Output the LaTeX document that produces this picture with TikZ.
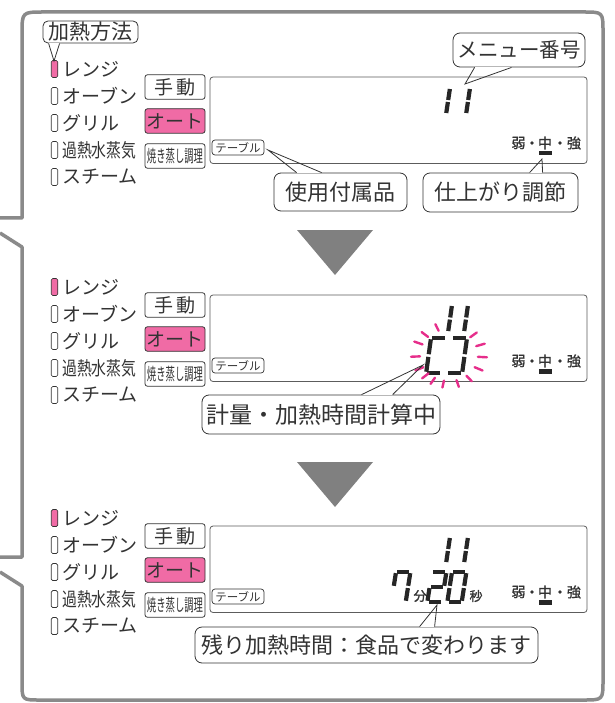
\documentclass[tikz,border=0pt]{standalone}
\usepackage{fontspec}
\newfontfamily\jp{Noto Sans CJK JP}
\newfontfamily\jpfb[FakeBold=1.2]{Noto Sans CJK JP}
\usetikzlibrary{calc}
\definecolor{txt}{HTML}{333333}
\definecolor{pinkb}{HTML}{F06BA5}
\definecolor{raycol}{HTML}{E62E8B}
\definecolor{framec}{HTML}{8A8A8A}
\definecolor{tricol}{HTML}{808080}
\newcommand\fs[1]{\fontsize{#1}{#1}\selectfont}
\newcommand\sga{\draw[seg] (1,0) -- (11,0);}
\newcommand\sgb{\draw[seg] (12,1) -- (12,12);}
\newcommand\sgc{\draw[seg] (12,14) -- (12,25);}
\newcommand\sgd{\draw[seg] (1,26) -- (11,26);}
\newcommand\sge{\draw[seg] (0,14) -- (0,25);}
\newcommand\sgf{\draw[seg] (0,1) -- (0,12);}
\newcommand\sgg{\draw[seg] (1,13) -- (11,13);}
\newcommand\ssd[5]{\begin{scope}[shift={(#1,#2)},xscale=#3,yscale=#4,xslant=0.15]\foreach \s in {#5}{\csname sg\s\endcsname}\end{scope}}
\newcommand\panel[2]{%
 \node[ind, fill=pinkb] (ia#2) at (54.5,#1) {};
 \node[ind] (ib#2) at (54.5,#1+27) {};
 \node[ind] (ic#2) at (54.5,#1+54) {};
 \node[ind] (id#2) at (54.5,#1+81) {};
 \node[ind] (ie#2) at (54.5,#1+108) {};
 \node[lab] (la#2) at (62,#1) {レンジ};
 \node[lab] (lb#2) at (62,#1+27) {オーブン};
 \node[lab] (lc#2) at (62,#1+54) {グリル};
 \node[lab] (ld#2) at (62,#1+81) {\scalebox{0.78}[1]{過熱水蒸気}};
 \node[lab] (le#2) at (62,#1+108) {スチーム};
 \node[btn] (bm#2) at (175,#1+18) {手\hspace{4pt}動};
 \node[btn, fill=pinkb] (ba#2) at (175,#1+52) {オート};
 \node[btn] (bs#2) at (175,#1+87) {\scalebox{0.55}[1]{\fs{17}焼き蒸し調理}};
 \draw[disp] (210,#1+8) rectangle (587,#1+94.5);
 \node[tbl] (tb#2) at (238,#1+78.5) {テーブル};
 \node[sm] (wk#2) at (518.5,#1+74) {弱};
 \fill[txt] (532,#1+74) circle (1.9);
 \node[sm] (md#2) at (545,#1+74) {中};
 \fill[txt] (560,#1+74) circle (1.9);
 \node[sm] (st#2) at (574,#1+74) {強};
 \fill[black!85] (538.5,#1+82) rectangle (551.5,#1+86.5);
}
\begin{document}
\begin{tikzpicture}[x=1pt,y=-1pt, font=\jp, text=txt,
 frame/.style={draw=framec, line width=3.5pt, line join=round},
 callout/.style={draw=txt, line width=0.8pt, rounded corners=7pt, fill=white, inner sep=0pt, text=txt},
 tailline/.style={draw=txt, line width=0.8pt},
 erase/.style={draw=white, line width=1.6pt},
 ind/.style={draw=txt, line width=0.7pt, rounded corners=1.5pt, minimum width=6.5pt, minimum height=17pt, inner sep=0pt},
 lab/.style={anchor=west, inner sep=0pt, font=\jp\fs{19}},
 btn/.style={draw=txt, line width=0.8pt, rounded corners=2.5pt, minimum width=60pt, minimum height=24.5pt, inner sep=0pt, font=\jp\fs{19}},
 disp/.style={draw=txt!80, line width=0.8pt, rounded corners=3pt},
 tbl/.style={draw=txt, line width=0.7pt, rounded corners=3pt, minimum width=52pt, minimum height=15pt, inner sep=0pt, font=\jp\fs{11.5}},
 sm/.style={inner sep=0pt, font=\jpfb\fs{14}},
 seg/.style={line width=4.2pt, draw=black!85},
 rayline/.style={draw=raycol, line width=2.4pt, line cap=round}]
\useasboundingbox (0,0) rectangle (614,703);
% outer frame
\draw[frame] (0,218) -- (22,218) -- (22,34) .. controls (22,12) .. (44,12) -- (583,12) .. controls (603,12) .. (603,32) -- (603,680) .. controls (603,700) .. (583,700) -- (40,700) .. controls (22,700) .. (22,682) -- (22,586) -- (0,572);
\draw[frame] (0,233) -- (22,247) -- (22,557) -- (0,557);
% panels
\panel{69}{t}
\panel{287}{m}
\panel{518}{b}
% arrows
\fill[tricol] (297,230) -- (373,230) -- (335,275) -- cycle;
\fill[tricol] (297,462) -- (373,462) -- (335,507) -- cycle;
% digits top
\ssd{438}{88}{1}{1}{b,c}
\ssd{458}{88}{1}{1}{b,c}
% digits middle
\ssd{440}{305}{1}{1.04}{b,c}
\ssd{456}{305}{1}{1.04}{b,c}
\ssd{431}{338}{1.25}{1.35}{a,f,e,d}
\ssd{452}{338}{1.25}{1.35}{a,b,c,d}
\foreach \a in {111,136,156,183,208,225,241,260,285,307,332,356,20,43}
 \draw[rayline] ({449+29*cos(\a)},{355-26*sin(\a)}) -- ({449+38*cos(\a)},{355-33*sin(\a)});
% digits bottom
\ssd{438}{537}{1}{1}{b,c}
\ssd{456}{537}{1}{1}{b,c}
\ssd{396}{572}{1.2}{1.15}{a,b,c,f}
\ssd{432}{572}{1.2}{1.15}{a,b,g,e,d}
\ssd{452}{572}{1.2}{1.15}{a,b,c,d,e,f}
\node[inner sep=0pt, font=\jpfb\fs{13}] (fun) at (420,596) {分};
\node[inner sep=0pt, font=\jpfb\fs{13}] (byo) at (476,596) {秒};
% callouts
\node[callout, rounded corners=5pt, minimum width=95pt, minimum height=22pt, font=\jp\fs{21}] (kh) at (90.5,32) {加熱方法};
\coordinate (khtip) at (54,61);
\coordinate (kh1) at ($(kh.south west)+(6,0)$);
\coordinate (kh2) at ($(kh.south west)+(17,0)$);
\draw[erase] (kh1) -- (kh2);
\draw[tailline] (kh1) -- (khtip) -- (kh2);

\node[callout, minimum width=132pt, minimum height=34pt, font=\jp\fs{20.5}] (mn) at (519,50) {メニュー番号};
\coordinate (mntip) at (465,84);
\coordinate (mn1) at ($(mn.south west)+(22,0)$);
\coordinate (mn2) at ($(mn.south west)+(59,0)$);
\draw[erase] (mn1) -- (mn2);
\draw[tailline] (mn1) -- (mntip) -- (mn2);

\node[callout, minimum width=133pt, minimum height=38pt, font=\jp\fs{22}] (sf) at (340.5,192) {使用付属品};
\coordinate (sftip) at (268,150);
\coordinate (sf1) at ($(sf.north west)+(23,0)$);
\coordinate (sf2) at ($(sf.north west)+(48,0)$);
\draw[erase] (sf1) -- (sf2);
\draw[tailline] (sf1) -- (sftip) -- (sf2);

\node[callout, minimum width=155pt, minimum height=39pt, font=\jp\fs{22}] (sa) at (500.5,192.5) {仕上がり調節};
\coordinate (satip) at (542,159);
\coordinate (sa1) at ($(sa.north west)+(107,0)$);
\coordinate (sa2) at ($(sa.north west)+(120,0)$);
\draw[erase] (sa1) -- (sa2);
\draw[tailline] (sa1) -- (satip) -- (sa2);

\node[callout, minimum width=238pt, minimum height=39pt, font=\jp\fs{23}] (kr) at (321,414.5) {計量・加熱時間計算中};
\coordinate (krtip) at (423,365);
\coordinate (kr1) at ($(kr.north west)+(160,0)$);
\coordinate (kr2) at ($(kr.north west)+(191,0)$);
\draw[erase] (kr1) -- (kr2);
\draw[tailline] (kr1) -- (krtip) -- (kr2);

\node[callout, minimum width=343pt, minimum height=36pt, font=\jp\fs{22}] (nk) at (366.5,645) {残り加熱時間：食品で変わります};
\coordinate (nktip) at (437,605);
\coordinate (nk1) at ($(nk.north west)+(225,0)$);
\coordinate (nk2) at ($(nk.north west)+(240,0)$);
\draw[erase] (nk1) -- (nk2);
\draw[tailline] (nk1) -- (nktip) -- (nk2);
\end{tikzpicture}
\end{document}
